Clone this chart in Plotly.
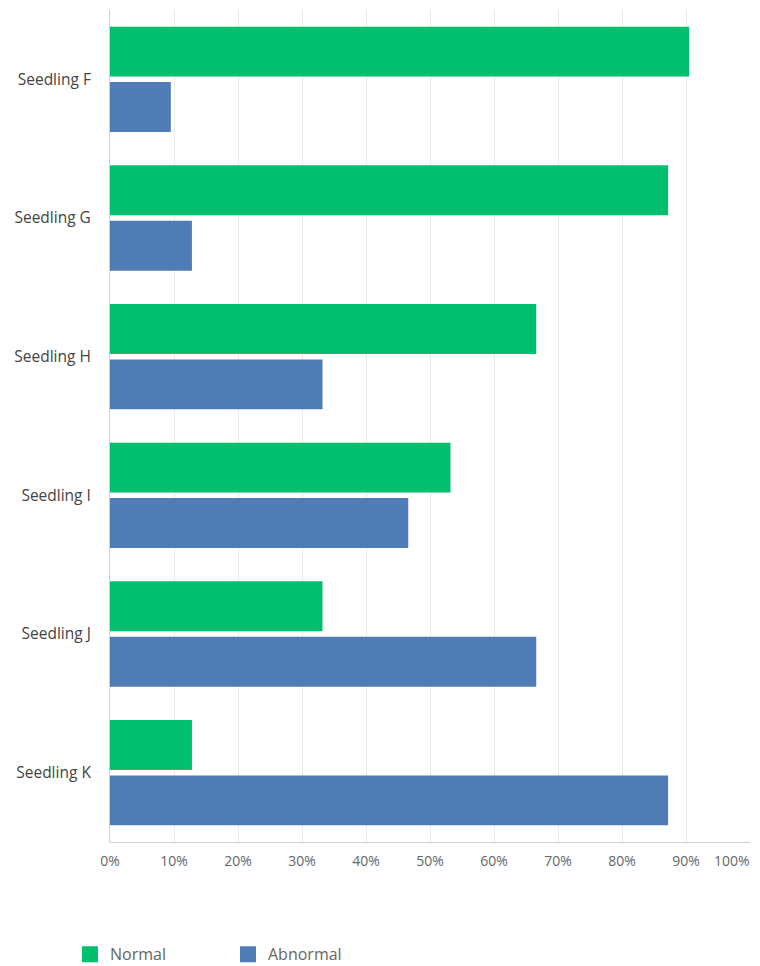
import plotly.graph_objects as go

categories = ["Seedling F", "Seedling G", "Seedling H", "Seedling I", "Seedling J", "Seedling K"]
normal = [90.5, 87.2, 66.6, 53.2, 33.2, 12.8]
abnormal = [9.5, 12.8, 33.2, 46.6, 66.6, 87.2]
tick_vals = [0, 10, 20, 30, 40, 50, 60, 70, 80, 90, 100]
tick_text = [f"{v}%" for v in tick_vals]

GREEN = "#00BF6F"
BLUE = "#507CB6"
FONT = "Open Sans"

fig = go.Figure()
# Abnormal first so that Normal is drawn on top within each group (horizontal bars)
fig.add_trace(go.Bar(y=categories, x=abnormal, name="Abnormal", orientation="h",
                     marker=dict(color=BLUE, line=dict(width=0)), showlegend=False))
fig.add_trace(go.Bar(y=categories, x=normal, name="Normal", orientation="h",
                     marker=dict(color=GREEN, line=dict(width=0)), showlegend=False))
# legend entries
fig.add_trace(go.Scatter(x=[None], y=[None], mode="markers", name="Normal",
                         marker=dict(symbol="square", size=20, color=GREEN)))
fig.add_trace(go.Scatter(x=[None], y=[None], mode="markers", name="Abnormal",
                         marker=dict(symbol="square", size=20, color=BLUE)))

# last tick label nudged inside the figure, as in the reference
fig.add_annotation(x=tick_vals[-1], xref="x", y=0, yref="paper", yshift=-18,
                   text=tick_text[-1], showarrow=False, xanchor="right", xshift=1,
                   yanchor="middle", borderpad=0,
                   font=dict(family=FONT, size=14, color="#666"))
shown_text = tick_text[:-1] + [""]

# the page body adds an 8px offset, so the figure is sized/margined to compensate
fig.update_layout(
    width=752, height=958,
    margin=dict(l=102, r=10, t=2, b=124, autoexpand=False),
    paper_bgcolor="white", plot_bgcolor="white",
    barmode="group", bargap=0.2, bargroupgap=0.1,
    font=dict(family=FONT, size=14, color="#555"),
    xaxis=dict(range=[0, 100], tickvals=tick_vals, ticktext=shown_text,
               showgrid=True, gridcolor="#ebebeb", gridwidth=1,
               showline=True, linecolor="#d0d0d0", linewidth=1,
               zeroline=False, ticks="", ticklabelstandoff=6, automargin=False,
               tickfont=dict(family=FONT, size=14, color="#666")),
    yaxis=dict(categoryorder="array", categoryarray=categories[::-1],
               showgrid=False, showline=True, linecolor="#d0d0d0", linewidth=1,
               ticks="", ticklabelstandoff=15, automargin=False,
               tickfont=dict(family=FONT, size=15.5, color="#444")),
    legend=dict(orientation="h", x=-0.0625, xanchor="left", y=-0.135, yanchor="middle",
                entrywidth=113, entrywidthmode="pixels", itemsizing="trace",
                font=dict(family=FONT, size=16, color="#666")),
)

fig.write_html("out.html")
